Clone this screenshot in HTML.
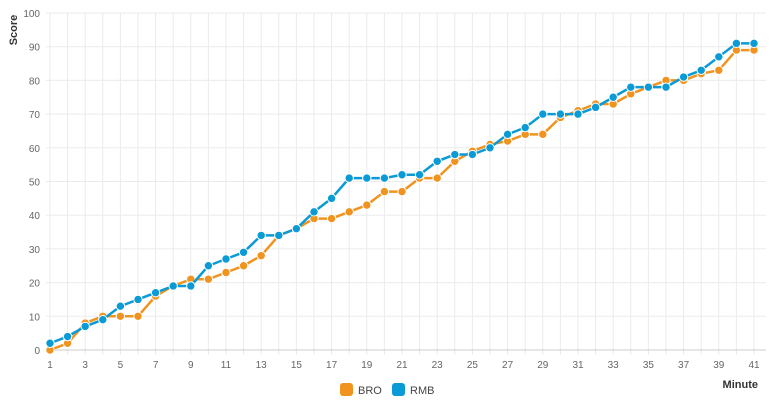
<!DOCTYPE html>
<html><head><meta charset="utf-8"><style>
html,body{margin:0;padding:0;background:#fff;width:770px;height:406px;overflow:hidden}
svg{display:block;font-family:"Liberation Sans",sans-serif}
</style></head><body>
<svg id="s" width="770" height="406" viewBox="0 0 770 406"></svg>
<script>
const B=[0,2,8,10,10,10,16,19,21,21,23,25,28,34,36,39,39,41,43,47,47,51,51,56,59,61,62,64,64,69,71,73,73,76,78,80,80,82,83,89,89];
const R=[2,4,7,9,13,15,17,19,19,25,27,29,34,34,36,41,45,51,51,51,52,52,56,58,58,60,64,66,70,70,70,72,75,78,78,78,81,83,87,91,91];
const X=i=>50+i*17.6, Y=v=>350-v*3.37;
let h='';
for(let v=0;v<=100;v+=10){h+=`<line x1="46" x2="766" y1="${Y(v)}" y2="${Y(v)}" stroke="#ebebeb"/>`;
h+=`<text x="40" y="${Y(v)+4}" font-size="10" fill="#666" text-anchor="end">${v}</text>`;}
for(let i=0;i<41;i++){h+=`<line x1="${X(i)}" x2="${X(i)}" y1="13" y2="355" stroke="#ebebeb"/>`;
if(i%2==0)h+=`<text x="${X(i)}" y="368" font-size="10" fill="#666" text-anchor="middle">${i+1}</text>`;}
h+=`<line x1="46" x2="766" y1="350" y2="350" stroke="#ccc"/>`;
function ser(d,c){let p=d.map((v,i)=>X(i)+','+Y(v)).join(' ');
let s=`<polyline points="${p}" fill="none" stroke="${c}" stroke-width="2.5"/>`;
d.forEach((v,i)=>s+=`<circle cx="${X(i)}" cy="${Y(v)}" r="4.2" fill="${c}" stroke="#fff" stroke-width="1"/>`);return s;}
h+=ser(B,'#f0931f')+ser(R,'#0a9bd6');
h+=`<text transform="translate(17,30) rotate(-90)" font-size="11" font-weight="bold" fill="#333" text-anchor="middle">Score</text>`;
h+=`<text x="758" y="388" font-size="11" font-weight="bold" fill="#333" text-anchor="end">Minute</text>`;
h+=`<rect x="340" y="383" width="13" height="13" rx="3" fill="#f0931f"/><text x="358" y="394" font-size="11" fill="#444">BRO</text>`;
h+=`<rect x="392" y="383" width="13" height="13" rx="3" fill="#0a9bd6"/><text x="410" y="394" font-size="11" fill="#444">RMB</text>`;
document.getElementById('s').innerHTML=h;
</script>
</body></html>
